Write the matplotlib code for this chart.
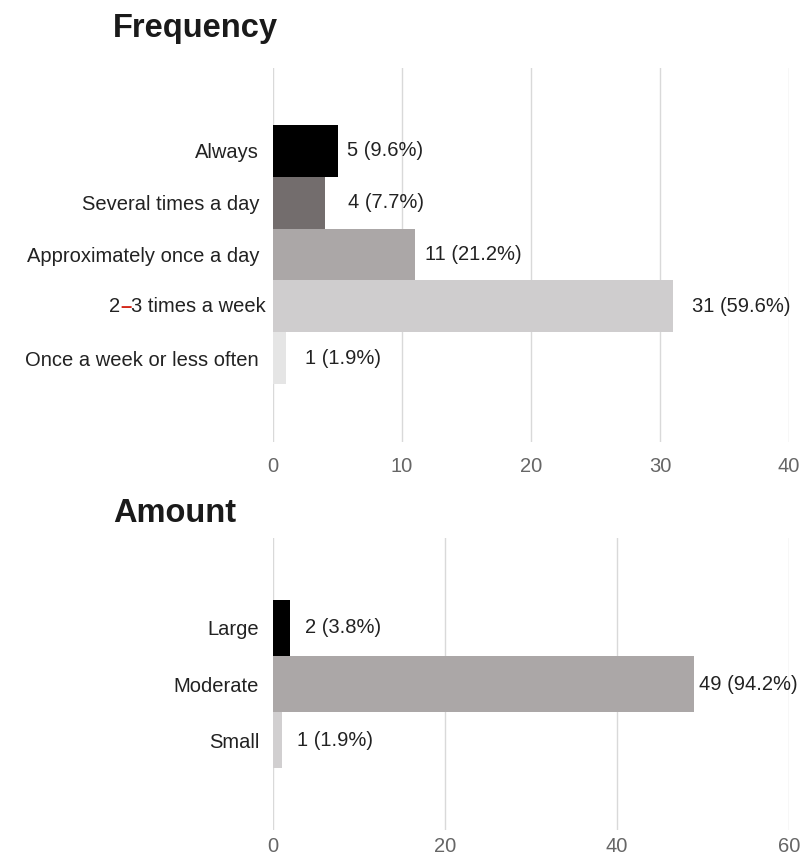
import matplotlib.pyplot as plt

plt.rcParams['font.family'] = ['Liberation Sans', 'DejaVu Sans']

# Frequency answers
freq_labels = ['Always', 'Several times a day', 'Approximately once a day',
               '2–3 times a week', 'Once a week or less often']
freq_counts = [5, 4, 11, 31, 1]
freq_pcts = [9.6, 7.7, 21.2, 59.6, 1.9]
freq_colors = ['#000000', '#736d6d', '#aba7a7', '#cfcdce', '#e5e5e5']
freq_ticks = [0, 10, 20, 30, 40]

# Amount answers
amt_labels = ['Large', 'Moderate', 'Small']
amt_counts = [2, 49, 1]
amt_pcts = [3.8, 94.2, 1.9]
amt_colors = ['#000000', '#aba7a7', '#d1cfd0']
amt_ticks = [0, 20, 40, 60]

# gap between bar end and its value label (points)
freq_gaps = [7, 17, 7, 14, 14]
amt_gaps = [11, 3, 11]

W, H = 808, 861
fig = plt.figure(figsize=(W / 100, H / 100), dpi=100)

TXT = '#222222'
GRID = '#d9d9d9'
FS = 14.5


def panel(rect, labels, counts, pcts, colors, ticks, ylim, gaps,
          xpad=11, split_dash=False):
    ax = fig.add_axes(rect)
    ys = list(range(len(labels)))
    ax.barh(ys, counts, height=1.0, color=colors, zorder=2)
    ax.set_xlim(ticks[0], ticks[-1])
    ax.set_ylim(*ylim)
    ax.set_xticks(ticks)
    ax.set_xticklabels([str(t) for t in ticks], fontsize=FS, color='#666666')
    ax.grid(axis='x', color=GRID, linewidth=1, zorder=0)
    ax.tick_params(axis='both', length=0)
    ax.tick_params(axis='x', pad=xpad)
    ax.tick_params(axis='y', pad=10)
    ax.set_yticks(ys)
    shown = ['' if (split_dash and '–' in lb) else lb for lb in labels]
    ax.set_yticklabels(shown, fontsize=FS, color=TXT)
    for s in ax.spines.values():
        s.set_visible(False)
    for y, c, p, g in zip(ys, counts, pcts, gaps):
        ax.annotate(f'{c} ({p}%)', xy=(c, y), xytext=(g, 0),
                    textcoords='offset points', ha='left', va='center',
                    fontsize=FS, color=TXT)
    if split_dash:
        # draw the en dash in red, pieces chained right to left
        for y, lb in zip(ys, labels):
            if '–' not in lb:
                continue
            left, right = lb.split('–', 1)
            t = ax.annotate(right, xy=(0, y), xycoords=('axes fraction', 'data'),
                            xytext=(-5, 0), textcoords='offset points',
                            ha='right', va='center', fontsize=FS, color=TXT)
            t = ax.annotate('–', xy=(0, 0), xycoords=t, ha='right', va='bottom',
                            fontsize=FS, color='#d42a1c', fontweight='bold')
            ax.annotate(left, xy=(0, 0), xycoords=t, ha='right', va='bottom',
                        fontsize=FS, color=TXT)
    return ax


x0 = 273 / W
wd = 516 / W
panel([x0, (H - 442) / H, wd, 374 / H], freq_labels, freq_counts, freq_pcts,
      freq_colors, freq_ticks, (5.62, -1.60), freq_gaps, split_dash=True)
panel([x0, (H - 830) / H, wd, 292 / H], amt_labels, amt_counts, amt_pcts,
      amt_colors, amt_ticks, (3.607, -1.607), amt_gaps, xpad=5)

fig.text(113 / W, 1 - 37 / H, 'Frequency', fontsize=23.5, fontweight='bold',
         color='#1a1a1a', ha='left', va='baseline')
fig.text(113 / W, 1 - 522 / H, 'Amount', fontsize=23.5, fontweight='bold',
         color='#1a1a1a', ha='left', va='baseline')

fig.savefig('out.png', dpi=100, facecolor='white')
